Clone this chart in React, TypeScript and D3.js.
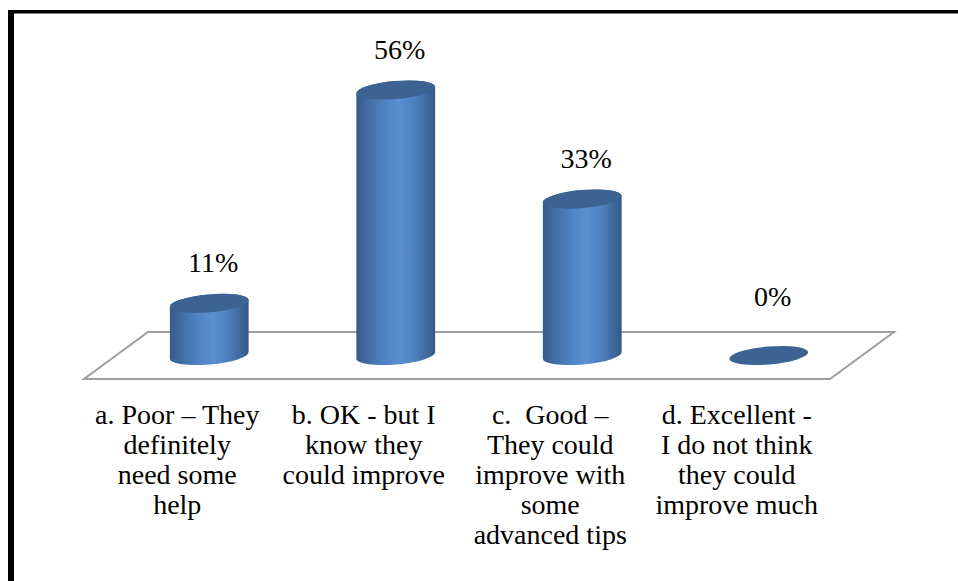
import React from "react";
import * as d3 from "d3";

const categories = ["a", "b", "c", "d"];
const values = [11, 56, 33, 0];
const valueLabels = ["11%", "56%", "33%", "0%"];
const categoryLines = [
  ["a. Poor \u2013 They", "definitely", "need some", "help"],
  ["b. OK - but I", "know they", "could improve"],
  ["c.\u00a0 Good \u2013", "They could", "improve with", "some", "advanced tips"],
  ["d. Excellent -", "I do not think", "they could", "improve much"],
];

const W = 958;
const H = 581;

export default function App() {
  const frontY = 379;
  const backY = 332;
  const depthDx = 64;
  const floorLeft = 84;
  const floorRight = 830;

  const x = d3.scaleBand<string>().domain(categories).range([floorLeft, floorRight]).padding(0);
  const baseY = (frontY + backY) / 2;
  const y = d3.scaleLinear().domain([0, 56]).range([baseY, 90]);

  const bw = x.bandwidth();
  const rx = bw * 0.212;
  const ry = 9;
  const tilt = 5; // degrees
  const cosT = Math.cos((tilt * Math.PI) / 180);
  const sinT = Math.sin((tilt * Math.PI) / 180);

  const floorPts: [number, number][] = [
    [floorLeft, frontY],
    [floorRight, frontY],
    [floorRight + depthDx, backY],
    [floorLeft + depthDx, backY],
  ];
  const floorPath = d3.line()(floorPts) + "Z";

  return (
    <svg
      width={W}
      height={H}
      style={{ position: "absolute", left: 0, top: 0, fontFamily: '"Liberation Serif"' }}
    >
      <defs>
        <linearGradient id="cylSide" x1="0" x2="1" y1="0" y2="0">
          <stop offset="0" stopColor="#365a89" />
          <stop offset="0.12" stopColor="#4069a0" />
          <stop offset="0.35" stopColor="#4f82c2" />
          <stop offset="0.55" stopColor="#5a8fd1" />
          <stop offset="0.75" stopColor="#4d7fbd" />
          <stop offset="0.92" stopColor="#3d6598" />
          <stop offset="1" stopColor="#35588a" />
        </linearGradient>
      </defs>

      <rect x={0} y={0} width={W} height={H} fill="#fff" />

      {/* border */}
      <rect x={8} y={10} width={W - 8} height={3.5} fill="#000" />
      <rect x={8} y={10} width={6} height={H - 10} fill="#000" />

      {/* floor */}
      <path d={floorPath} fill="#fff" stroke="#9e9e9e" strokeWidth={2} strokeLinejoin="miter" />

      {/* cylinders */}
      {categories.map((c, i) => {
        const cx = (x(c) as number) + bw / 2 + depthDx / 2;
        const yb = y(0);
        const yt = y(values[i]);
        const ex = rx * cosT;
        const ey = rx * sinT;
        const lb: [number, number] = [cx - ex, yb + ey];
        const rb: [number, number] = [cx + ex, yb - ey];
        const lt: [number, number] = [cx - ex, yt + ey];
        const rt: [number, number] = [cx + ex, yt - ey];
        const body =
          `M${lt[0]},${lt[1]} L${lb[0]},${lb[1]} ` +
          `A${rx},${ry} ${-tilt} 0 0 ${rb[0]},${rb[1]} ` +
          `L${rt[0]},${rt[1]} ` +
          `A${rx},${ry} ${-tilt} 0 0 ${lt[0]},${lt[1]} Z`;
        const labelY = Math.min(yt, backY + 5) - 31;
        return (
          <g key={c}>
            {values[i] > 0 && <path d={body} fill="url(#cylSide)" />}
            <ellipse
              cx={cx}
              cy={yt}
              rx={rx}
              ry={ry}
              transform={`rotate(${-tilt} ${cx} ${yt})`}
              fill="#3d6393"
            />
            <text
              x={cx + 4}
              y={labelY}
              textAnchor="middle"
              fill="#000"
              fontSize={28}
              style={{ fontFamily: '"Liberation Serif"' }}
            >
              {valueLabels[i]}
            </text>
          </g>
        );
      })}

      {/* category labels */}
      {categories.map((c, i) => {
        const cx = (x(c) as number) + bw / 2;
        return (
          <text
            key={"l" + c}
            textAnchor="middle"
            fill="#000"
            fontSize={28}
            style={{ fontFamily: '"Liberation Serif"' }}
          >
            {categoryLines[i].map((ln, j) => (
              <tspan key={j} x={cx} y={424 + j * 30}>
                {ln}
              </tspan>
            ))}
          </text>
        );
      })}
    </svg>
  );
}
